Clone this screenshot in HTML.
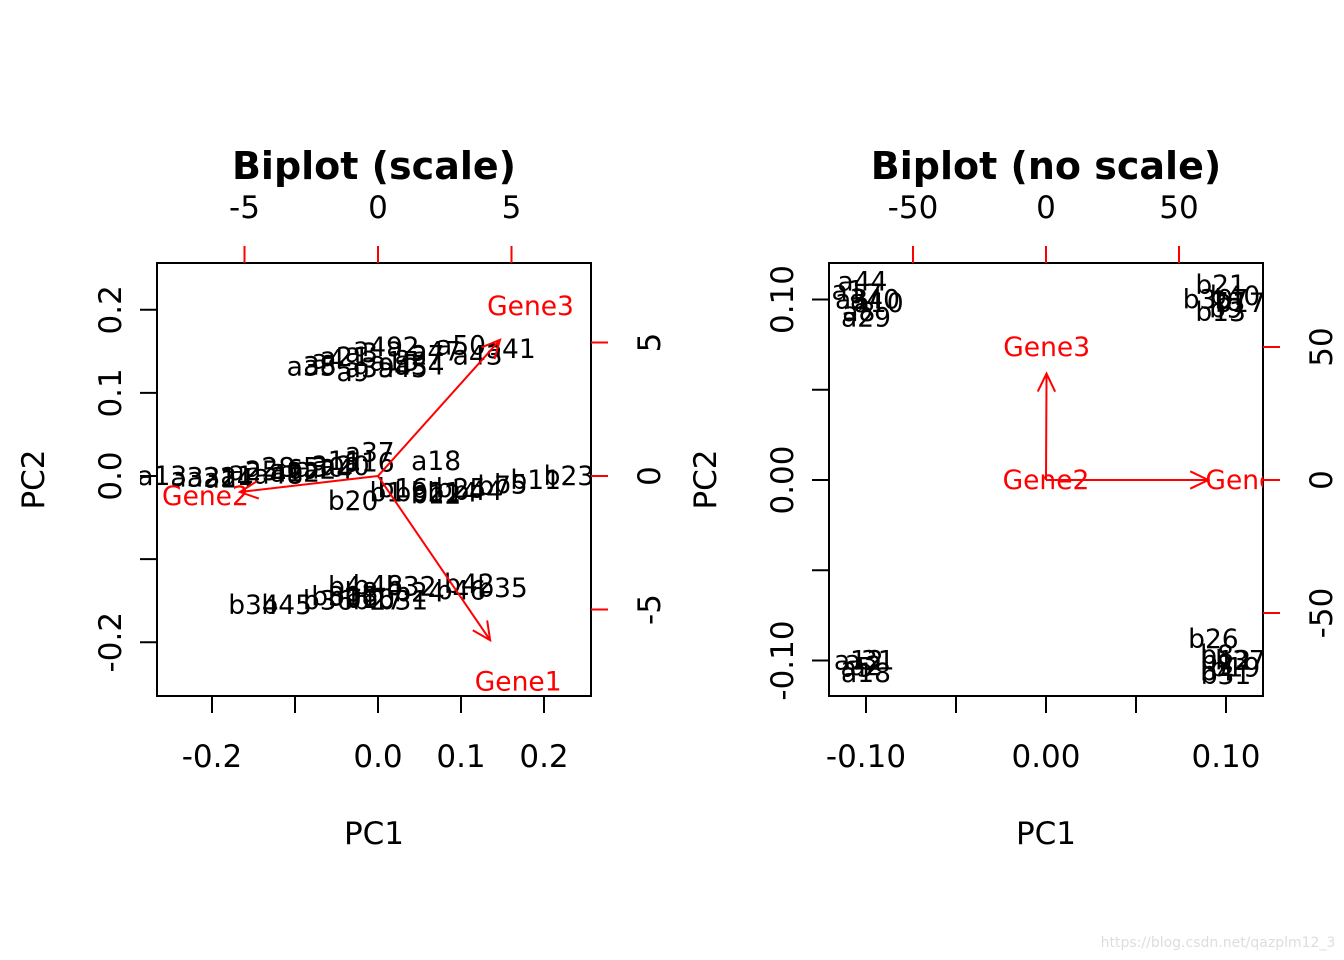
<!DOCTYPE html>
<html><head><meta charset="utf-8">
<style>
html,body{margin:0;padding:0;background:#fff;}
svg{display:block;font-family:"DejaVu Sans","Liberation Sans",sans-serif;}
</style></head>
<body>
<svg id="c" width="1344" height="960" viewBox="0 0 1344 960">
<defs>
<clipPath id="clipL"><rect x="140" y="263" width="451" height="433"/></clipPath>
<clipPath id="clipR"><rect x="829" y="263" width="434" height="433"/></clipPath>
</defs>
<text x="1218" y="947" font-size="14" fill="#ddd" text-anchor="middle">https://blog.csdn.net/qazplm12_3</text>
</svg>
<script>
// ---- Left plot (scaled) data ----
const leftLabels = ["a41","a50","a43","a49","a2","a47","a4","a21","a3","a27","a34","a35","a9","a8","a15","a39","a45",
"a13","a33","a22","a1","a14","a28","a6","a5","a30","a24","a20","a12","a16","a37","a11","a25","a48",
"b23","b11","b5","b7","b16","b2","b14","b44","b12","b20","b25","b9","b1","a18",
"b35","b42","b46","b32","b48","b4","b31","b27","b10","b18","b36","b30","b45","b34","b24","b8"];
const leftPC1 = [0.16,0.1,0.12,0.0,0.03,0.07,-0.06,-0.04,-0.02,0.05,0.05,-0.08,-0.03,-0.07,0.02,-0.01,0.03,
-0.26,-0.22,-0.2,-0.17,-0.18,-0.13,-0.11,-0.09,-0.07,-0.06,-0.04,-0.1,-0.01,-0.01,-0.05,-0.15,-0.12,
0.23,0.19,0.16,0.14,0.03,0.06,0.09,0.12,0.07,-0.03,0.1,0.04,0.01,0.07,
0.15,0.11,0.1,0.04,0.0,-0.04,0.03,0.0,-0.01,-0.03,-0.06,-0.05,-0.11,-0.15,0.05,-0.02];
const leftPC2 = [0.153,0.157,0.145,0.155,0.155,0.15,0.14,0.143,0.148,0.145,0.133,0.132,0.125,0.133,0.138,0.13,0.13,
0.0,-0.002,-0.002,0.0,-0.003,0.01,0.008,0.01,0.01,0.008,0.012,0.004,0.016,0.028,0.018,0.006,0.002,
0.0,-0.005,-0.01,-0.012,-0.015,-0.02,-0.02,-0.018,-0.022,-0.03,-0.015,-0.02,-0.02,0.018,
-0.135,-0.13,-0.138,-0.133,-0.132,-0.133,-0.15,-0.15,-0.148,-0.145,-0.15,-0.145,-0.155,-0.155,-0.14,-0.14];
const leftGenes = ["Gene1","Gene2","Gene3"];
const leftLoadX = [4.2,-5.17,4.57];
const leftLoadY = [-6.15,-0.6,5.1];
const leftBottomTicks = [-0.2,-0.1,0.0,0.1,0.2];
const leftBottomTickLabels = ["-0.2","","0.0","0.1","0.2"];
const leftLeftTicks = [-0.2,-0.1,0.0,0.1,0.2];
const leftLeftTickLabels = ["-0.2","","0.0","0.1","0.2"];
const leftTopTicks = [-5,0,5];
const leftRightTicks = [-5,0,5];

// ---- Right plot (no scale) data ----
const rightLabels = ["a44","a10","a29","a3","a7","a40","a8","a1",
"b21","b30","b7","b13","b9","b40","b17",
"a12","a2","a31","a18","a5",
"b26","b31","b4","b12","b37","b8","b19"];
const rightPC1 = [-0.102,-0.093,-0.1,-0.108,-0.1,-0.095,-0.104,-0.11,
0.097,0.09,0.103,0.097,0.1,0.105,0.108,
-0.104,-0.1,-0.098,-0.1,-0.105,
0.093,0.1,0.095,0.1,0.108,0.095,0.105];
const rightPC2 = [0.11,0.098,0.09,0.1,0.103,0.1,0.093,0.105,
0.108,0.1,0.1,0.093,0.095,0.102,0.098,
-0.1,-0.103,-0.1,-0.107,-0.104,
-0.088,-0.108,-0.106,-0.1,-0.1,-0.097,-0.104];
const rightGenes = ["Gene1","Gene2","Gene3"];
const rightLoadX = [61,0,0.2];
const rightLoadY = [0,0,40];
const rightBottomTicks = [-0.1,-0.05,0,0.05,0.1];
const rightBottomTickLabels = ["-0.10","","0.00","","0.10"];
const rightLeftTicks = [-0.1,-0.05,0,0.05,0.1];
const rightLeftTickLabels = ["-0.10","","0.00","","0.10"];
const rightTopTicks = [-50,0,50];
const rightRightTicks = [-50,0,50];

const NS="http://www.w3.org/2000/svg";
const svg=document.getElementById('c');
function mk(tag,attrs,parent){const e=document.createElementNS(NS,tag);for(const k in attrs)e.setAttribute(k,attrs[k]);(parent||svg).appendChild(e);return e;}
const TF=31, PF=26.5;

function panel(cfg){
  const g=mk('g',{});
  
  
  const box=cfg.box;
  const sx=v=>box.x0px+(v-box.xv0)*box.xs;
  const sy=v=>box.y0px-(v-box.yv0)*box.ys;
  const tx=v=>box.x0px+v*box.ts;
  const ty=v=>box.y0px-v*box.ts;
  const r=mk('rect',{x:box.l,y:box.t,width:box.r-box.l,height:box.b-box.t,fill:'none',stroke:'#000','stroke-width':2},g);
  
  
  const t=mk('text',{x:(box.l+box.r)/2,y:179,'font-size':38,'font-weight':'bold','text-anchor':'middle'},g);
  t.textContent=cfg.title;
  
  
  const xa=mk('g',{},g);
  
  
  cfg.bt.forEach((v,i)=>{const x=sx(v);mk('line',{x1:x,x2:x,y1:box.b,y2:box.b+17,stroke:'#000','stroke-width':2},xa);
    if(cfg.btl[i]){const l=mk('text',{x:x,y:767,'font-size':TF,'text-anchor':'middle'},xa);l.textContent=cfg.btl[i];
    
    }});
  const xt=mk('text',{x:(box.l+box.r)/2,y:844,'font-size':TF,'text-anchor':'middle'},g);xt.textContent='PC1';
  
  
  const ya=mk('g',{},g);
  
  
  cfg.lt.forEach((v,i)=>{const y=sy(v);mk('line',{x1:box.l,x2:box.l-17,y1:y,y2:y,stroke:'#000','stroke-width':2},ya);
    if(cfg.ltl[i]){const l=mk('text',{x:box.l-47,y:y,'font-size':TF,'text-anchor':'middle',transform:`rotate(-90 ${box.l-47} ${y})`,dy:11},ya);l.textContent=cfg.ltl[i];
    
    }});
  const yt=mk('text',{x:box.l-124,y:(box.t+box.b)/2,'font-size':TF,'text-anchor':'middle',dy:11,transform:`rotate(-90 ${box.l-124} ${(box.t+box.b)/2})`},g);yt.textContent='PC2';
  
  
  const ta=mk('g',{},g);
  
  
  cfg.tt.forEach(v=>{const x=tx(v);mk('line',{x1:x,x2:x,y1:box.t,y2:box.t-17,stroke:'red','stroke-width':2},ta);
    const l=mk('text',{x:x,y:218,'font-size':TF,'text-anchor':'middle'},ta);l.textContent=String(v);
    
    });
  const ra=mk('g',{},g);
  
  
  cfg.rt.forEach(v=>{const y=ty(v);mk('line',{x1:box.r,x2:box.r+17,y1:y,y2:y,stroke:'red','stroke-width':2},ra);
    const X=box.r+58;const l=mk('text',{x:X,y:y,'font-size':TF,'text-anchor':'middle',dy:11,transform:`rotate(-90 ${X} ${y})`},ra);l.textContent=String(v);
    
    });
  const cg=mk('g',{'clip-path':`url(#${cfg.clip})`},g);
  const pg=mk('g',{},cg);
  
  
  cfg.labels.forEach((s,i)=>{const e=mk('text',{x:sx(cfg.px[i]),y:sy(cfg.py[i]),'font-size':PF,'text-anchor':'middle',dy:9},pg);e.textContent=s;
    
    });
  const ag=mk('g',{},cg);
  
  
  const ox=tx(0),oy=ty(0);
  cfg.genes.forEach((gname,i)=>{
    const ex=tx(cfg.lx[i]),ey=ty(cfg.ly[i]);
    const len=Math.hypot(ex-ox,ey-oy);
    if(len>2){
      const a=Math.atan2(ey-oy,ex-ox),h=20,w=0.45;
      const d=`M${ox},${oy}L${ex},${ey}M${ex-h*Math.cos(a-w)},${ey-h*Math.sin(a-w)}L${ex},${ey}L${ex-h*Math.cos(a+w)},${ey-h*Math.sin(a+w)}`;
      const p=mk('path',{d:d,stroke:'red','stroke-width':2,fill:'none'},ag);
      
      
    }
    const l=mk('text',{x:tx(cfg.lx[i]*1.25),y:ty(cfg.ly[i]*1.25),'font-size':PF,fill:'red','text-anchor':'middle',dy:9},ag);
    l.textContent=gname;
    
    
  });
}

panel({name:'left',title:'Biplot (scale)',clip:'clipL',
  box:{l:157,r:591,t:263,b:696,x0px:378,xv0:0,xs:830,y0px:476,yv0:0,ys:831,ts:26.7},
  bt:leftBottomTicks,btl:leftBottomTickLabels,lt:leftLeftTicks,ltl:leftLeftTickLabels,tt:leftTopTicks,rt:leftRightTicks,
  labels:leftLabels,px:leftPC1,py:leftPC2,genes:leftGenes,lx:leftLoadX,ly:leftLoadY});
panel({name:'right',title:'Biplot (no scale)',clip:'clipR',
  box:{l:829,r:1263,t:263,b:696,x0px:1046,xv0:0,xs:1800,y0px:480,yv0:0,ys:1805,ts:2.66},
  bt:rightBottomTicks,btl:rightBottomTickLabels,lt:rightLeftTicks,ltl:rightLeftTickLabels,tt:rightTopTicks,rt:rightRightTicks,
  labels:rightLabels,px:rightPC1,py:rightPC2,genes:rightGenes,lx:rightLoadX,ly:rightLoadY});
</script>
</body></html>
